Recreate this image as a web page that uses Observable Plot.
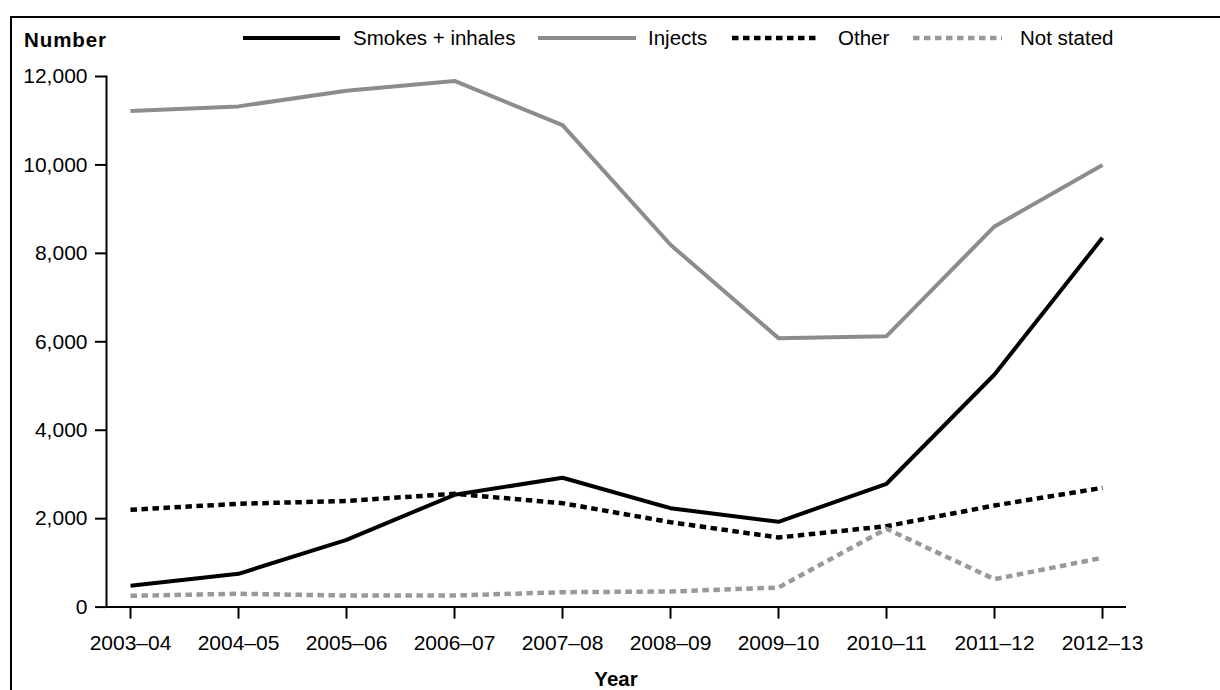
<!DOCTYPE html>
<html>
<head>
<meta charset="utf-8">
<script src="https://cdn.jsdelivr.net/npm/d3@7"></script>
<script src="https://cdn.jsdelivr.net/npm/@observablehq/plot@0.6"></script>
<style>
  html, body { margin: 0; padding: 0; background: #fff; overflow: hidden; }
  body { width: 1220px; height: 690px; position: relative; font-family: "Liberation Sans", Arial, sans-serif; }
  #frame { position: absolute; left: 10px; top: 16px; width: 1300px; height: 800px; border: 2px solid #000; box-sizing: border-box; }
  #chart { position: absolute; left: 0; top: 0; }
  #legend { position: absolute; left: 0; top: 26px; height: 24px; width: 1220px; font-size: 20.5px; color: #000; white-space: nowrap; }
  #legend .sw { position: absolute; top: 7px; }
  #legend .tx { position: absolute; top: 0; line-height: 24px; }
  .lbl { position: absolute; font-weight: bold; font-size: 20.5px; color: #000; }
</style>
</head>
<body>
<div id="frame"></div>
<div id="chart"></div>
<div id="legend"></div>
<div class="lbl" id="ylab" style="left:24px; top:28px; letter-spacing:0.9px;">Number</div>
<div class="lbl" id="xlab" style="left:616px; top:667px; transform:translateX(-50%);">Year</div>
<script>
const years = ["2003–04","2004–05","2005–06","2006–07","2007–08","2008–09","2009–10","2010–11","2011–12","2012–13"];
const smokes = [482, 753, 1522, 2540, 2925, 2237, 1929, 2789, 5261, 8354];
const injects = [11217, 11324, 11680, 11900, 10900, 8195, 6083, 6128, 8609, 9996];
const other = [2201, 2337, 2400, 2563, 2350, 1920, 1574, 1830, 2298, 2698];
const notStated = [256, 301, 262, 262, 337, 353, 443, 1771, 631, 1115];
const yTicks = [0, 2000, 4000, 6000, 8000, 10000, 12000];

const seriesNames = ["Smokes + inhales", "Injects", "Other", "Not stated"];
const seriesValues = [smokes, injects, other, notStated];
const seriesStyle = [
  {stroke: "#000000", dash: null, width: 4},
  {stroke: "#8c8c8c", dash: null, width: 4},
  {stroke: "#000000", dash: "6.5,4.5", width: 4.5},
  {stroke: "#999999", dash: "6.5,4.5", width: 4.5}
];

const rows = seriesNames.flatMap((name, i) => years.map((yr, j) => ({series: name, year: yr, value: seriesValues[i][j]})));

const lineMarks = seriesNames.map((name, i) => Plot.line(rows.filter(d => d.series === name), {
  x: "year", y: "value",
  stroke: seriesStyle[i].stroke,
  strokeWidth: seriesStyle[i].width,
  strokeDasharray: seriesStyle[i].dash,
  strokeLinecap: "butt",
  strokeLinejoin: "miter"
}));

const plot = Plot.plot({
  width: 1220,
  height: 690,
  marginLeft: 106,
  marginRight: 94,
  marginTop: 76,
  marginBottom: 83.4,
  style: {fontFamily: "'Liberation Sans', Arial, sans-serif", fontSize: "21px", color: "#000", background: "transparent"},
  x: {type: "point", domain: years, padding: 0.184},
  y: {domain: [0, 12000]},
  marks: [
    Plot.frame({anchor: "left", stroke: "#000", strokeWidth: 2}),
    Plot.ruleY([0], {stroke: "#000", strokeWidth: 2}),
    Plot.axisY(yTicks, {tickSize: 11, tickPadding: 8, tickFormat: d3.format(","), label: null, strokeWidth: 2, fontSize: 21}),
    Plot.axisX({tickSize: 12, tickPadding: 16, label: null, strokeWidth: 2, fontSize: 21}),
    ...lineMarks
  ]
});
document.getElementById("chart").appendChild(plot);

// legend layout (style only)
const swatchLeft = [243, 538, 732, 913];
const swatchWidths = [97, 98, 85, 89];
const textLeft = [353, 648, 838, 1020];
const legend = document.getElementById("legend");
seriesNames.forEach((name, i) => {
  const w = swatchWidths[i];
  const st = seriesStyle[i];
  const sw = document.createElement("div");
  sw.className = "sw";
  sw.style.left = swatchLeft[i] + "px";
  sw.innerHTML = `<svg width="${w}" height="10" style="display:block"><line x1="0" x2="${w}" y1="5" y2="5" stroke="${st.stroke}" stroke-width="${st.width}" ${st.dash ? `stroke-dasharray="${st.dash}"` : ""}/></svg>`;
  legend.appendChild(sw);
  const tx = document.createElement("div");
  tx.className = "tx";
  tx.style.left = textLeft[i] + "px";
  tx.textContent = name;
  legend.appendChild(tx);
});
</script>
</body>
</html>
